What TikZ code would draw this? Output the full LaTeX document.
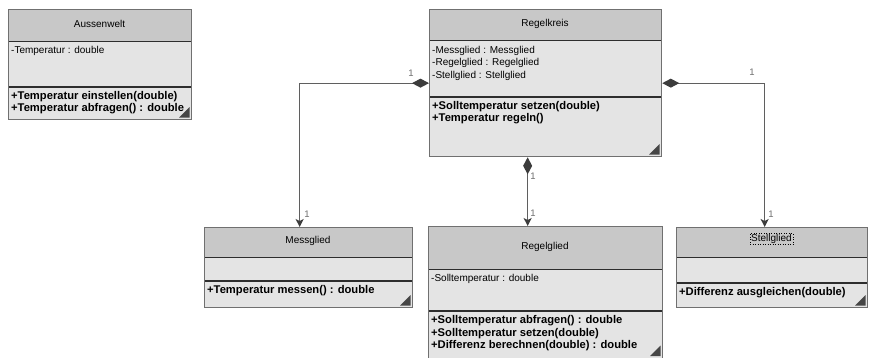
\documentclass[tikz,border=0pt]{standalone}
\usepackage{fontspec}
\setmainfont{Liberation Sans}
\usetikzlibrary{arrows.meta}
\definecolor{headgray}{RGB}{200,200,200}
\definecolor{bodygray}{RGB}{228,228,228}
\definecolor{bordergray}{RGB}{112,112,112}
\definecolor{sepdark}{RGB}{45,45,45}
\definecolor{conngray}{RGB}{95,95,95}
\definecolor{diamgray}{RGB}{60,60,60}
\definecolor{cornergray}{RGB}{70,70,70}
\definecolor{multgray}{RGB}{110,110,110}
\newcommand\umlbox[7]{%
  \fill[bodygray] (#2,#3) rectangle (#4,#5);
  \fill[headgray] (#2,#3) rectangle (#4,#6);
  \draw[sepdark, line width=0.8pt] (#2,#6) -- (#4,#6);
  \draw[sepdark, line width=2.6pt] (#2,#7) -- (#4,#7);
  \fill[cornergray] ({#4-1.5},{#5-1.5}) -- ({#4-1.5},{#5-12}) -- ({#4-12},{#5-1.5}) -- cycle;
  \node[classbox, minimum width={#4pt-#2pt}, minimum height={#5pt-#3pt}] (#1) at (#2,#3) {};
}
\begin{document}
\begin{tikzpicture}[x=1pt,y=-1pt,
  classbox/.style={draw=bordergray, line width=1.3pt, rectangle, inner sep=0pt, anchor=north west},
  titletext/.style={font=\fontsize{10}{11}\selectfont, inner sep=1pt},
  attrtext/.style={font=\fontsize{10}{11}\selectfont, anchor=west, inner sep=0pt},
  optext/.style={font=\fontsize{11.2}{12}\selectfont\bfseries, anchor=west, inner sep=0pt},
  multlabel/.style={font=\fontsize{9.5}{11}\selectfont, text=multgray, inner sep=0pt},
  composition/.style={draw=conngray, line width=1.3pt,
    {Diamond[length=17pt, width=9pt, fill=diamgray, color=diamgray]}-{Stealth[length=8pt, width=8pt, inset=2pt, fill=diamgray, color=diamgray]}},
]
\useasboundingbox[fill=white] (0,0) rectangle (870,357);

% Aussenwelt
\umlbox{aussen}{8}{9}{191}{119}{41}{87}
\node[titletext] (aussenT) at (99.5,24) {Aussenwelt};
\node[attrtext] (aussenA1) at (11,51) {-Temperatur : double};
\node[optext] (aussenO1) at (11,97) {+Temperatur einstellen(double)};
\node[optext] (aussenO2) at (11,109) {+Temperatur abfragen() : double};

% Regelkreis
\umlbox{kreis}{429}{9}{661}{156}{40}{97}
\node[titletext] (kreisT) at (545,24) {Regelkreis};
\node[attrtext] (kreisA1) at (432,51) {-Messglied : Messglied};
\node[attrtext] (kreisA2) at (432,63) {-Regelglied : Regelglied};
\node[attrtext] (kreisA3) at (432,76) {-Stellglied : Stellglied};
\node[optext] (kreisO1) at (432,107) {+Solltemperatur setzen(double)};
\node[optext] (kreisO2) at (432,119) {+Temperatur regeln()};

% Messglied
\umlbox{mess}{204}{227}{412}{307}{257}{281}
\node[titletext] (messT) at (308,241) {Messglied};
\node[optext] (messO1) at (207,291) {+Temperatur messen() : double};

% Regelglied
\umlbox{regel}{428}{226}{662}{357.5}{269}{311}
\node[titletext] (regelT) at (545,247) {Regelglied};
\node[attrtext] (regelA1) at (431,279) {-Solltemperatur : double};
\node[optext] (regelO1) at (431,321) {+Solltemperatur abfragen() : double};
\node[optext] (regelO2) at (431,333.5) {+Solltemperatur setzen(double)};
\node[optext] (regelO3) at (431,346) {+Differenz berechnen(double) : double};

% Stellglied
\umlbox{stell}{676}{227}{867}{307}{257}{283}
\node[titletext, draw=black, dotted, line width=0.5pt] (stellT) at (771.5,239) {Stellglied};
\node[optext] (stellO1) at (679,293) {+Differenz ausgleichen(double)};

% connectors
\draw[composition] (kreis.west) -| ([xshift=-9pt]mess.north);
\draw[composition] (kreis.east) -| ([xshift=-7.5pt]stell.north);
\draw[composition] ([xshift=-18pt]kreis.south) -- ([xshift=-18pt]regel.north);

% multiplicities
\node[multlabel] (m1) at (411,73) {1};
\node[multlabel] (m2) at (307,214) {1};
\node[multlabel] (m3) at (752,72) {1};
\node[multlabel] (m4) at (771,214) {1};
\node[multlabel] (m5) at (533,176) {1};
\node[multlabel] (m6) at (533,213) {1};
\end{tikzpicture}
\end{document}
